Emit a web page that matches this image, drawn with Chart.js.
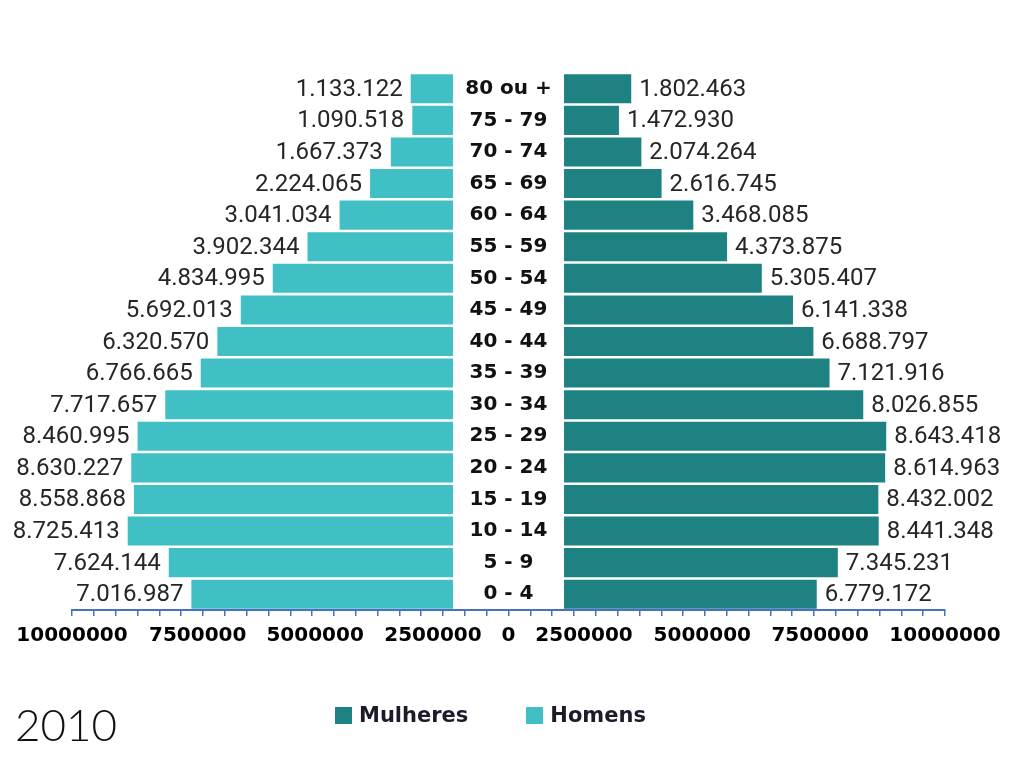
<!DOCTYPE html>
<html lang="pt-BR">
<head>
<meta charset="utf-8">
<title>Pirâmide etária 2010</title>
<script src="https://cdn.jsdelivr.net/npm/chart.js@4/dist/chart.umd.min.js"></script>
<style>
    html, body { margin: 0; padding: 0; background: #fff; }
    #wrap { position: relative; width: 1024px; height: 768px; }
    #year {
        position: absolute; left: 15px; top: 698px;
        font-family: Lato, sans-serif; font-weight: 300; font-size: 44px; color: #111;
    }
    #legend {
        position: absolute; left: 335px; top: 703px;
        display: flex; align-items: center;
        font-family: "DejaVu Sans", sans-serif; font-weight: bold; font-size: 21px; color: #1b1b2b;
    }
    #legend .item { display: flex; align-items: center; }
    #legend .box { width: 17px; height: 17px; margin-right: 7px; }
    #legend .item + .item { margin-left: 58px; }
</style>
</head>
<body>
<div id="wrap">
    <canvas id="pyramidChart"></canvas>
    <div id="legend"></div>
    <div id="year">2010</div>
</div>
<script>
// age groups, top to bottom
const ageGroups = ['80 ou +', '75 - 79', '70 - 74', '65 - 69', '60 - 64', '55 - 59', '50 - 54', '45 - 49',
    '40 - 44', '35 - 39', '30 - 34', '25 - 29', '20 - 24', '15 - 19', '10 - 14', '5 - 9', '0 - 4'];

const homens = [1133122, 1090518, 1667373, 2224065, 3041034, 3902344, 4834995, 5692013,
    6320570, 6766665, 7717657, 8460995, 8630227, 8558868, 8725413, 7624144, 7016987];

const mulheres = [1802463, 1472930, 2074264, 2616745, 3468085, 4373875, 5305407, 6141338,
    6688797, 7121916, 8026855, 8643418, 8614963, 8432002, 8441348, 7345231, 6779172];

const axisLabels = ['10000000', '7500000', '5000000', '2500000', '0', '2500000', '5000000', '7500000', '10000000'];

// layout constants (not data)
const GAP = 1490000;          // half of the empty centre band, in bar-scale units
const BAR_RANGE = 11710000;   // hidden bar scale runs -BAR_RANGE..BAR_RANGE
const AXIS_RANGE = 10000000;  // visible axis
const MARK_STEP = 500000;
const LABEL_POS = [-10e6, -7.12e6, -4.43e6, -1.73e6, 0, 1.73e6, 4.44e6, 7.14e6, 10e6];

const COLOR_MULHERES = '#1e8282';
const COLOR_HOMENS = '#40bfc4';
const AXIS_BLUE = '#4a6fc2';

function fmt(v) {
    return String(v).replace(/\B(?=(\d{3})+(?!\d))/g, '.');
}

// draws value labels beside bars and age groups in the centre band
const pyramidLabels = {
    id: 'pyramidLabels',
    afterDatasetsDraw(chart) {
        const ctx = chart.ctx;
        const xScale = chart.scales.x;
        ctx.save();
        ctx.textBaseline = 'middle';
        ctx.font = '24px Roboto, sans-serif';
        ctx.fillStyle = '#262626';

        chart.getDatasetMeta(0).data.forEach((el, i) => {
            ctx.textAlign = 'left';
            ctx.fillText(fmt(mulheres[i]), Math.max(el.x, el.base) + 8, el.y + 1);
        });
        chart.getDatasetMeta(1).data.forEach((el, i) => {
            ctx.textAlign = 'right';
            ctx.fillText(fmt(homens[i]), Math.min(el.x, el.base) - 8, el.y + 1);
        });

        ctx.font = 'bold 20px "DejaVu Sans", sans-serif';
        ctx.fillStyle = '#111';
        ctx.textAlign = 'center';
        const cx = xScale.getPixelForValue(0);
        chart.getDatasetMeta(0).data.forEach((el, i) => {
            ctx.fillText(ageGroups[i], cx, el.y);
        });
        ctx.restore();
    }
};

const pyramidChart = new Chart(document.getElementById('pyramidChart'), {
    type: 'bar',
    data: {
        labels: ageGroups,
        datasets: [{
            label: 'Mulheres',
            data: mulheres.map(v => [GAP, GAP + v]),
            backgroundColor: COLOR_MULHERES
        }, {
            label: 'Homens',
            data: homens.map(v => [-GAP - v, -GAP]),
            backgroundColor: COLOR_HOMENS
        }]
    },
    options: {
        indexAxis: 'y',
        responsive: true,
        maintainAspectRatio: false,
        animation: false,
        grouped: false,
        barPercentage: 0.92,
        categoryPercentage: 1,
        layout: {
            padding: { top: 73, left: 72, right: 79, bottom: 120 }
        },
        plugins: {
            legend: { display: false },
            tooltip: { enabled: false }
        },
        scales: {
            y: {
                display: false
            },
            x: {
                display: false,
                min: -BAR_RANGE,
                max: BAR_RANGE
            },
            xt: {
                type: 'linear',
                position: 'bottom',
                weight: 0,
                min: -AXIS_RANGE,
                max: AXIS_RANGE,
                afterBuildTicks: (scale) => {
                    const ticks = [];
                    for (let v = -AXIS_RANGE; v <= AXIS_RANGE; v += MARK_STEP) ticks.push({ value: v });
                    scale.ticks = ticks;
                },
                ticks: { display: false },
                grid: {
                    drawOnChartArea: false,
                    drawTicks: true,
                    tickLength: 6,
                    color: AXIS_BLUE,
                    lineWidth: 1.5
                },
                border: { color: AXIS_BLUE, width: 2 }
            },
            xl: {
                type: 'linear',
                position: 'bottom',
                weight: 1,
                min: -AXIS_RANGE,
                max: AXIS_RANGE,
                afterBuildTicks: (scale) => {
                    scale.ticks = LABEL_POS.map(v => ({ value: v }));
                },
                ticks: {
                    autoSkip: false,
                    maxRotation: 0,
                    padding: 0,
                    color: '#000',
                    font: { family: '"DejaVu Sans", sans-serif', weight: 'bold', size: 20 },
                    callback: (value, index) => axisLabels[index]
                },
                grid: { display: false },
                border: { display: false }
            }
        }
    },
    plugins: [pyramidLabels]
});

// html legend in the dataset order
const legendEl = document.getElementById('legend');
pyramidChart.data.datasets.forEach(ds => {
    const item = document.createElement('div');
    item.className = 'item';
    const box = document.createElement('span');
    box.className = 'box';
    box.style.background = ds.backgroundColor;
    const text = document.createElement('span');
    text.textContent = ds.label;
    item.appendChild(box);
    item.appendChild(text);
    legendEl.appendChild(item);
});
</script>
</body>
</html>
